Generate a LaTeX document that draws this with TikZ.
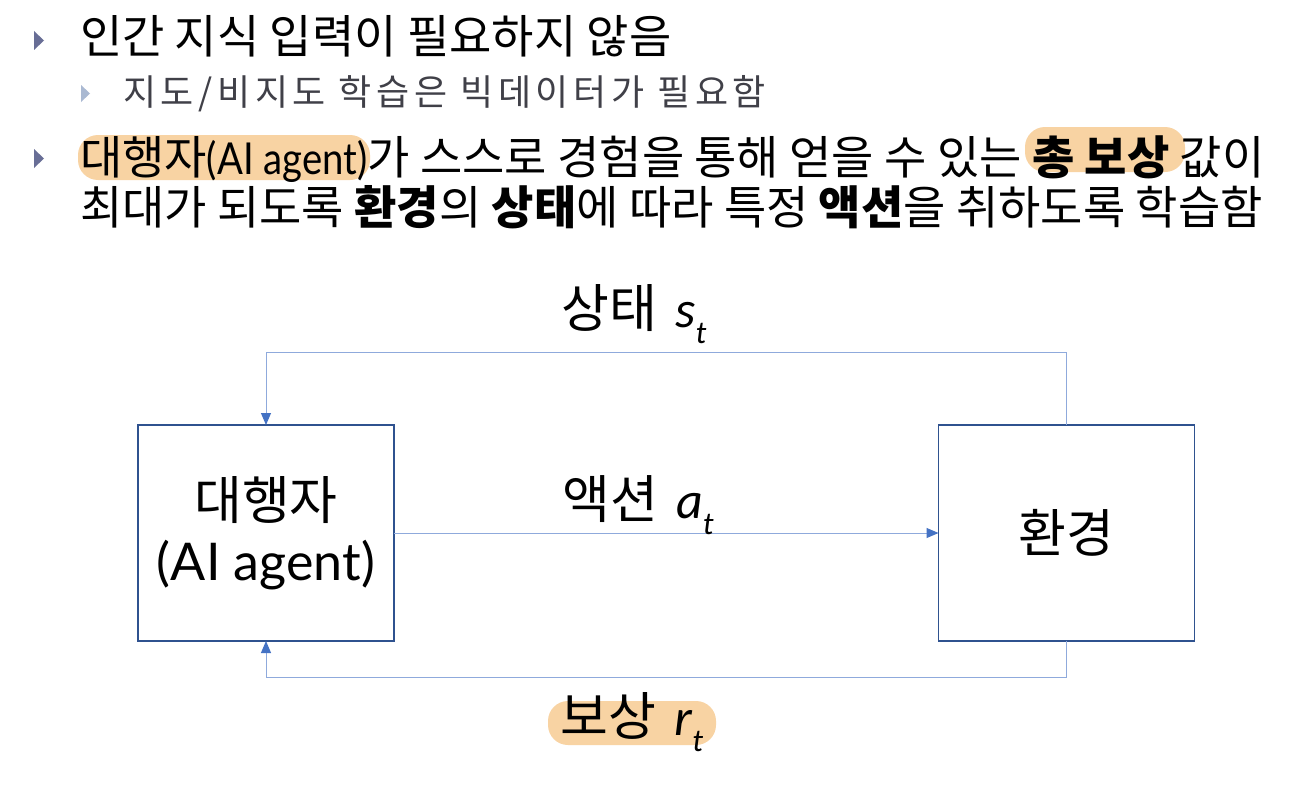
\documentclass[tikz,border=0pt]{standalone}
\usepackage{fontspec}
\setmainfont{Noto Sans CJK KR}
\newfontfamily\lat{Carlito}
\newfontfamily\gil{Lato}
\newfontfamily\gilc[FakeStretch=0.87]{Lato}
\usetikzlibrary{arrows.meta}
\definecolor{hl}{RGB}{248,211,163}
\definecolor{bxline}{RGB}{47,82,143}
\definecolor{lnblue}{RGB}{143,170,220}
\definecolor{tipblue}{RGB}{68,114,196}
\definecolor{bul1}{RGB}{104,110,150}
\definecolor{bul2}{RGB}{170,185,210}
\definecolor{subgray}{RGB}{64,64,72}
\newcommand{\fs}[1]{\fontsize{#1}{#1}\selectfont}
\newcommand{\vsub}[2]{{\lat\itshape #1\raisebox{-0.32em}{\fs{32}#2}}}
\begin{document}
\begin{tikzpicture}[x=1pt,y=-1pt,
  every node/.style={inner sep=0pt, outer sep=0pt},
  bline/.style={anchor=base west, text=black},
  box/.style={draw=bxline, line width=1.4pt, minimum width=256pt, minimum height=216pt, fill=white},
  flow/.style={draw=lnblue, line width=1pt, -{Triangle[length=12pt,width=10pt,color=tipblue]}},
  lbl/.style={font=\fs{52}},
  hlbox/.style={fill=hl, rounded corners=20pt}
]
\useasboundingbox[fill=white] (0,0) rectangle (1300,784);

% bullets
\fill[bul1] (34,31) -- (34,50) -- (44,40.5) -- cycle;
\fill[bul2] (81,85) -- (81,102) -- (90,93.5) -- cycle;
\fill[bul1] (34,149) -- (34,168) -- (44,158.5) -- cycle;

% highlights in text
\fill[hlbox] (78,135) rectangle (370,180);
\fill[hlbox] (1025,127) rectangle (1185,172);

\node[bline, font=\fs{46}] (t1) at (80,53) {인간 지식 입력이 필요하지 않음};
\node[bline, font=\fs{36}, text=subgray] (t2) at (123,105) {\addfontfeatures{LetterSpace=13}지도/비지도 학습은 빅데이터가 필요함};
\node[bline, font=\fs{46}] (t3) at (80,174) {대행자{\gilc\fs{44}(AI agent)}가 스스로 경험을 통해 얻을 수 있는 \textbf{총 보상} 값이};
\node[bline, font=\fs{46}] (t4) at (80,224) {최대가 되도록 \textbf{환경}의 \textbf{상태}에 따라 특정 \textbf{액션}을 취하도록 학습함};

% diagram
\node[box, align=center, font=\fs{52}] (agent) at (266,533) {대행자\\[9pt]{\gil (AI agent)}};
\node[box, font=\fs{52}] (env) at (1066.5,533) {환경};

\coordinate (tl) at (266,352);
\coordinate (bl) at (266,677);
\draw[flow] (env.north) |- (tl) -- (agent.north);
\draw[flow] (agent.east) -- (env.west);
\draw[flow] (env.south) |- (bl) -- (agent.south);

\node[lbl] (ls) at (634,314) {상태\hspace{18pt}\vsub{s}{t}};
\node[lbl] (la) at (638,505) {액션\hspace{18pt}\vsub{a}{t}};
\fill[hlbox] (548,701) rectangle (716,745);
\node[lbl] (lr) at (632,722) {보상\hspace{18pt}\vsub{r}{t}};
\end{tikzpicture}
\end{document}
